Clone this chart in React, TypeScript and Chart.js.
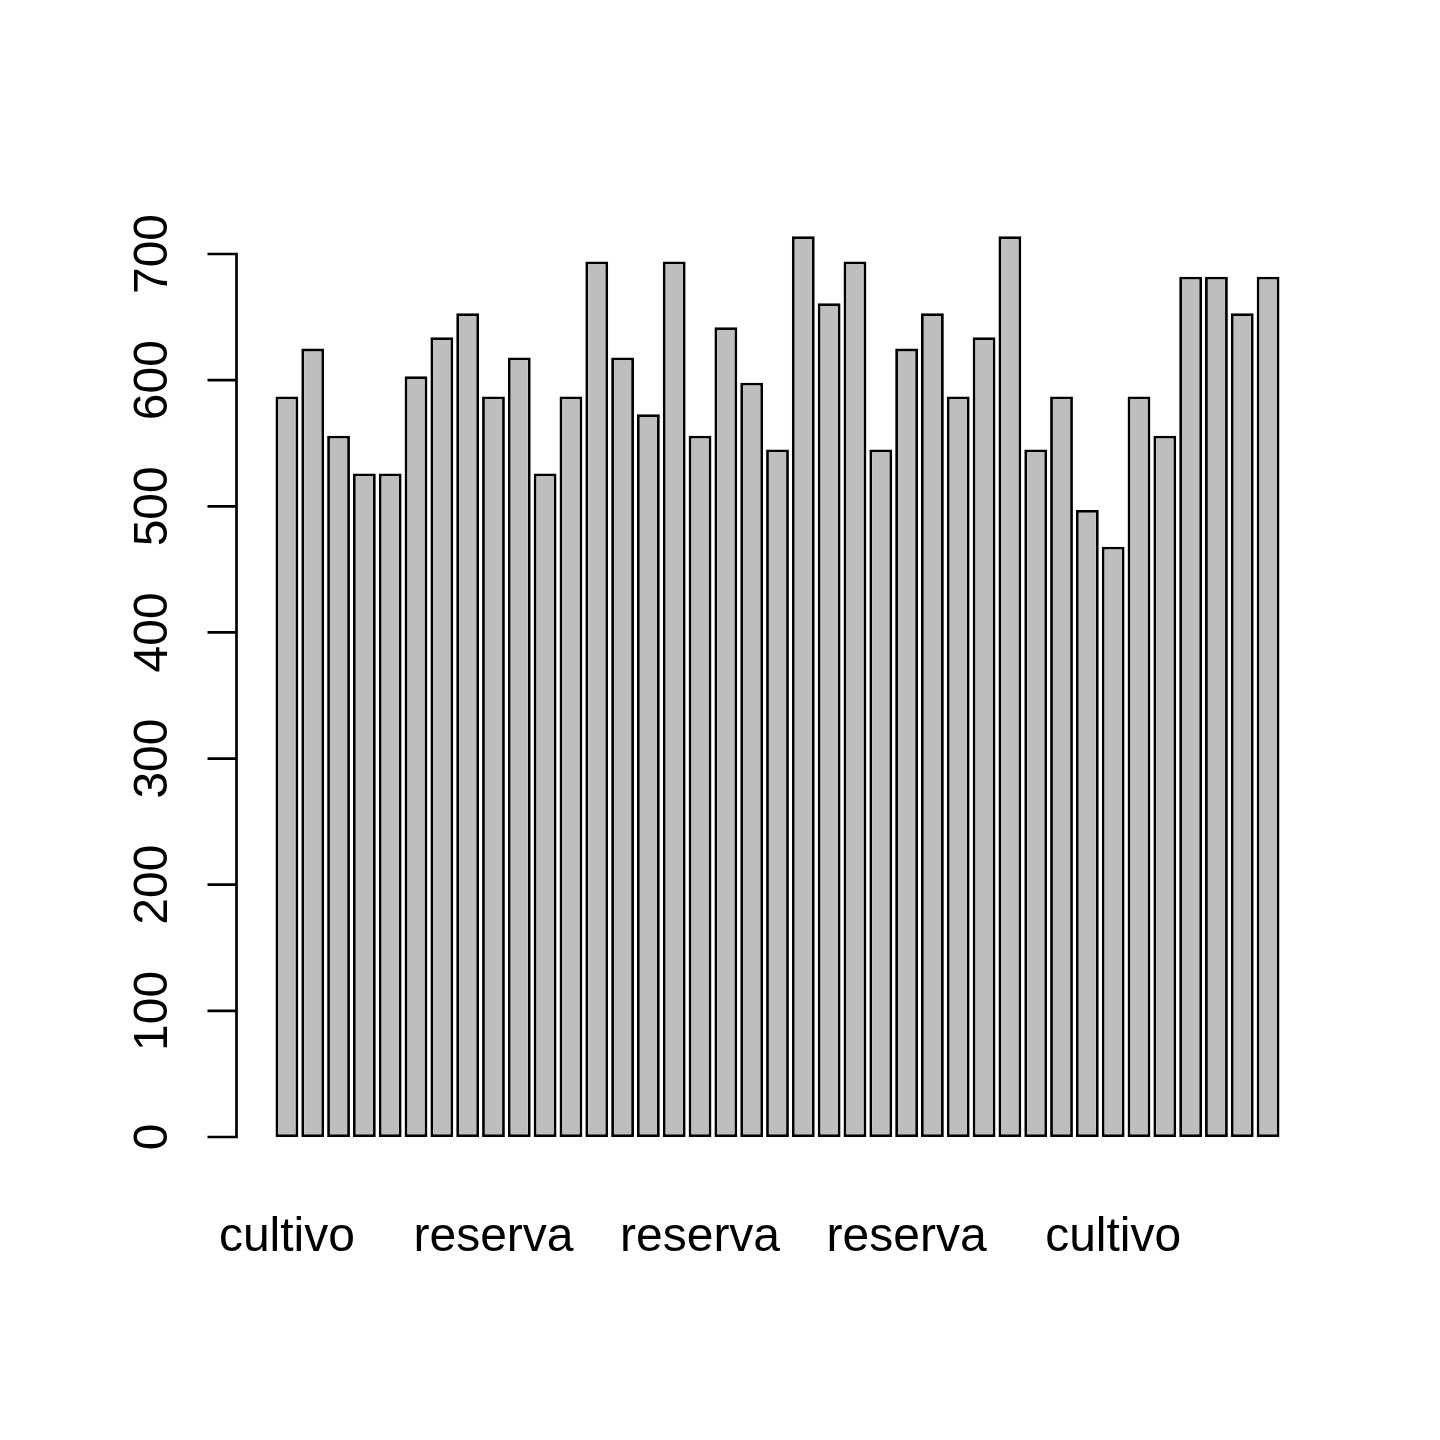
import { useEffect, useRef } from 'react';
import { Chart, BarController, BarElement, CategoryScale, LinearScale, type Plugin } from 'chart.js';

Chart.register(BarController, BarElement, CategoryScale, LinearScale);

// one bar per plot, names as in the source table (only every 8th fits under the axis)
const categories = [
  'cultivo', 'cultivo', 'cultivo', 'cultivo', 'cultivo', 'cultivo', 'cultivo', 'cultivo',
  'reserva', 'reserva', 'reserva', 'reserva', 'reserva', 'reserva', 'reserva', 'reserva',
  'reserva', 'reserva', 'reserva', 'reserva', 'reserva', 'reserva', 'reserva', 'reserva',
  'reserva', 'reserva', 'reserva', 'reserva', 'reserva', 'reserva', 'reserva', 'reserva',
  'cultivo', 'cultivo', 'cultivo', 'cultivo', 'cultivo', 'cultivo', 'cultivo',
];

const values = [
  587, 625, 556, 526, 526, 603, 634, 653, 587, 618,
  526, 587, 694, 618, 573, 694, 556, 642, 598, 545,
  714, 661, 694, 545, 625, 653, 587, 634, 714, 545,
  587, 497, 468, 587, 556, 682, 682, 653, 682,
];

const yTicks = [0, 100, 200, 300, 400, 500, 600, 700];
const labelEvery = 8;

const FAMILY = '"Liberation Sans", Arial, sans-serif';

// base-graphics style y axis: a line from first to last tick, set off from the bars
const rAxisPlugin: Plugin<'bar'> = {
  id: 'rAxis',
  afterDraw(chart) {
    const { ctx, chartArea } = chart;
    const y = chart.scales.y;
    const axisX = chartArea.left - 37.5;
    ctx.save();
    ctx.strokeStyle = '#000';
    ctx.lineWidth = 2.7;
    ctx.lineCap = 'butt';
    ctx.beginPath();
    ctx.moveTo(axisX, y.getPixelForValue(yTicks[0]) + 1.35);
    ctx.lineTo(axisX, y.getPixelForValue(yTicks[yTicks.length - 1]) - 1.35);
    for (const t of yTicks) {
      const py = y.getPixelForValue(t);
      ctx.moveTo(axisX + 1.35, py);
      ctx.lineTo(axisX - 29, py);
    }
    ctx.stroke();
    ctx.fillStyle = '#000';
    ctx.font = '48px ' + FAMILY;
    ctx.textAlign = 'center';
    ctx.textBaseline = 'alphabetic';
    for (const t of yTicks) {
      const py = y.getPixelForValue(t);
      ctx.save();
      ctx.translate(167, py);
      ctx.rotate(-Math.PI / 2);
      ctx.fillText(String(t), 0, 0);
      ctx.restore();
    }
    ctx.restore();
  },
};

export default function App() {
  const canvasRef = useRef<HTMLCanvasElement>(null);

  useEffect(() => {
    const canvas = canvasRef.current;
    if (!canvas) return;
    const chart = new Chart(canvas, {
      type: 'bar',
      data: {
        labels: categories,
        datasets: [
          {
            data: values,
            backgroundColor: '#bebebe',
            borderColor: '#000',
            borderWidth: 2.8,
            borderSkipped: false,
            barPercentage: 1.06 / 1.2,
            categoryPercentage: 1,
            clip: false,
          },
        ],
      },
      options: {
        responsive: false,
        animation: false,
        devicePixelRatio: 1,
        layout: { padding: { left: 274, right: 159, top: 254, bottom: 143 } },
        plugins: { legend: { display: false }, tooltip: { enabled: false } },
        scales: {
          x: {
            grid: { display: false, drawTicks: false },
            border: { display: false },
            afterFit: (s) => {
              s.height = 160;
            },
            ticks: {
              autoSkip: false,
              maxRotation: 0,
              minRotation: 0,
              padding: 72,
              color: '#000',
              font: { family: FAMILY, size: 48 },
              callback: (_v, i) => (i % labelEvery === 0 ? categories[i] : ''),
            },
          },
          y: {
            display: false,
            min: 0,
            max: 700,
          },
        },
      },
      plugins: [rAxisPlugin],
    });
    return () => chart.destroy();
  }, []);

  return (
    <div style={{ position: 'absolute', left: 0, top: 0, width: 1440, height: 1440, background: '#fff' }}>
      <canvas ref={canvasRef} width={1440} height={1440} style={{ width: 1440, height: 1440 }} />
    </div>
  );
}
